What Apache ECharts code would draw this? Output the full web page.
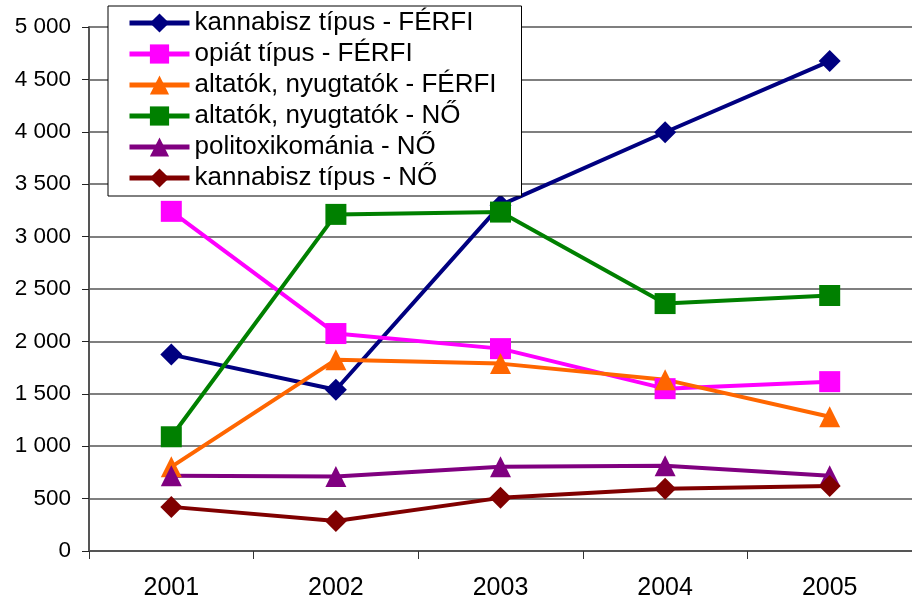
<!DOCTYPE html>
<html>
<head>
<meta charset="utf-8">
<script src="https://cdn.jsdelivr.net/npm/echarts@6/dist/echarts.min.js"></script>
<style>
  html, body { margin: 0; padding: 0; background: #fff; }
  #chart { width: 912px; height: 603px; }
</style>
</head>
<body>
<div id="chart"></div>
<script>
// évek
var years = ['2001', '2002', '2003', '2004', '2005'];

// sorozatok
var kannabiszFerfi = [1874, 1539, 3300, 3996, 4675];
var opiatFerfi = [3241, 2075, 1931, 1549, 1616];
var altatokFerfi = [803, 1826, 1788, 1635, 1281];
var altatokNo = [1090, 3212, 3234, 2361, 2438];
var politoxNo = [717, 711, 803, 813, 717];
var kannabiszNo = [421, 287, 507, 593, 621];

var chart = echarts.init(document.getElementById('chart'));

function makeSeries(name, data, color, symbol, size) {
    return {
        name: name,
        type: 'line',
        data: data,
        symbol: symbol,
        symbolSize: size,
        showSymbol: true,
        lineStyle: { color: color, width: 4 },
        itemStyle: { color: color },
        emphasis: { disabled: true }
    };
}

var option = {
    animation: false,
    backgroundColor: '#fff',
    textStyle: { fontFamily: 'Liberation Sans, Arial, sans-serif' },
    grid: { left: 89, right: -10, top: 27, bottom: 52 },
    legend: {
        orient: 'vertical',
        left: 108,
        top: 6,
        padding: [4, 25, 5, 19],
        backgroundColor: '#fff',
        borderColor: '#000',
        borderWidth: 1,
        borderRadius: 0,
        itemWidth: 60,
        itemHeight: 24,
        itemGap: 5,
        lineStyle: { width: 5 },
        textStyle: { fontSize: 26, color: '#000', fontFamily: 'Liberation Sans, Arial, sans-serif' },
        data: ['kannabisz típus - FÉRFI', 'opiát típus - FÉRFI', 'altatók, nyugtatók - FÉRFI',
               'altatók, nyugtatók - NŐ', 'politoxikománia - NŐ', 'kannabisz típus - NŐ']
    },
    xAxis: {
        type: 'category',
        data: years,
        boundaryGap: true,
        axisLine: { lineStyle: { color: '#555', width: 2 } },
        axisTick: { show: true, length: 8, alignWithLabel: false, lineStyle: { color: '#333' } },
        axisLabel: { fontSize: 25, color: '#000', margin: 25 }
    },
    yAxis: {
        type: 'value',
        min: 0,
        max: 5000,
        interval: 500,
        axisLine: { show: true, lineStyle: { color: '#555', width: 2 } },
        axisTick: { show: true, length: 7, lineStyle: { color: '#222' } },
        splitLine: { lineStyle: { color: '#555', width: 1.5 } },
        axisLabel: {
            fontSize: 22.5,
            color: '#000',
            margin: 18,
            formatter: function (v) {
                return String(v).replace(/\B(?=(\d{3})+(?!\d))/g, ' ');
            }
        }
    },
    series: [
        makeSeries('kannabisz típus - FÉRFI', kannabiszFerfi, '#000080', 'diamond', 22),
        makeSeries('opiát típus - FÉRFI', opiatFerfi, '#FF00FF', 'rect', 21),
        makeSeries('altatók, nyugtatók - FÉRFI', altatokFerfi, '#FF6600', 'triangle', 21),
        makeSeries('altatók, nyugtatók - NŐ', altatokNo, '#008000', 'rect', 21),
        makeSeries('politoxikománia - NŐ', politoxNo, '#800080', 'triangle', 21),
        makeSeries('kannabisz típus - NŐ', kannabiszNo, '#800000', 'diamond', 22)
    ]
};

chart.setOption(option);
</script>
</body>
</html>
